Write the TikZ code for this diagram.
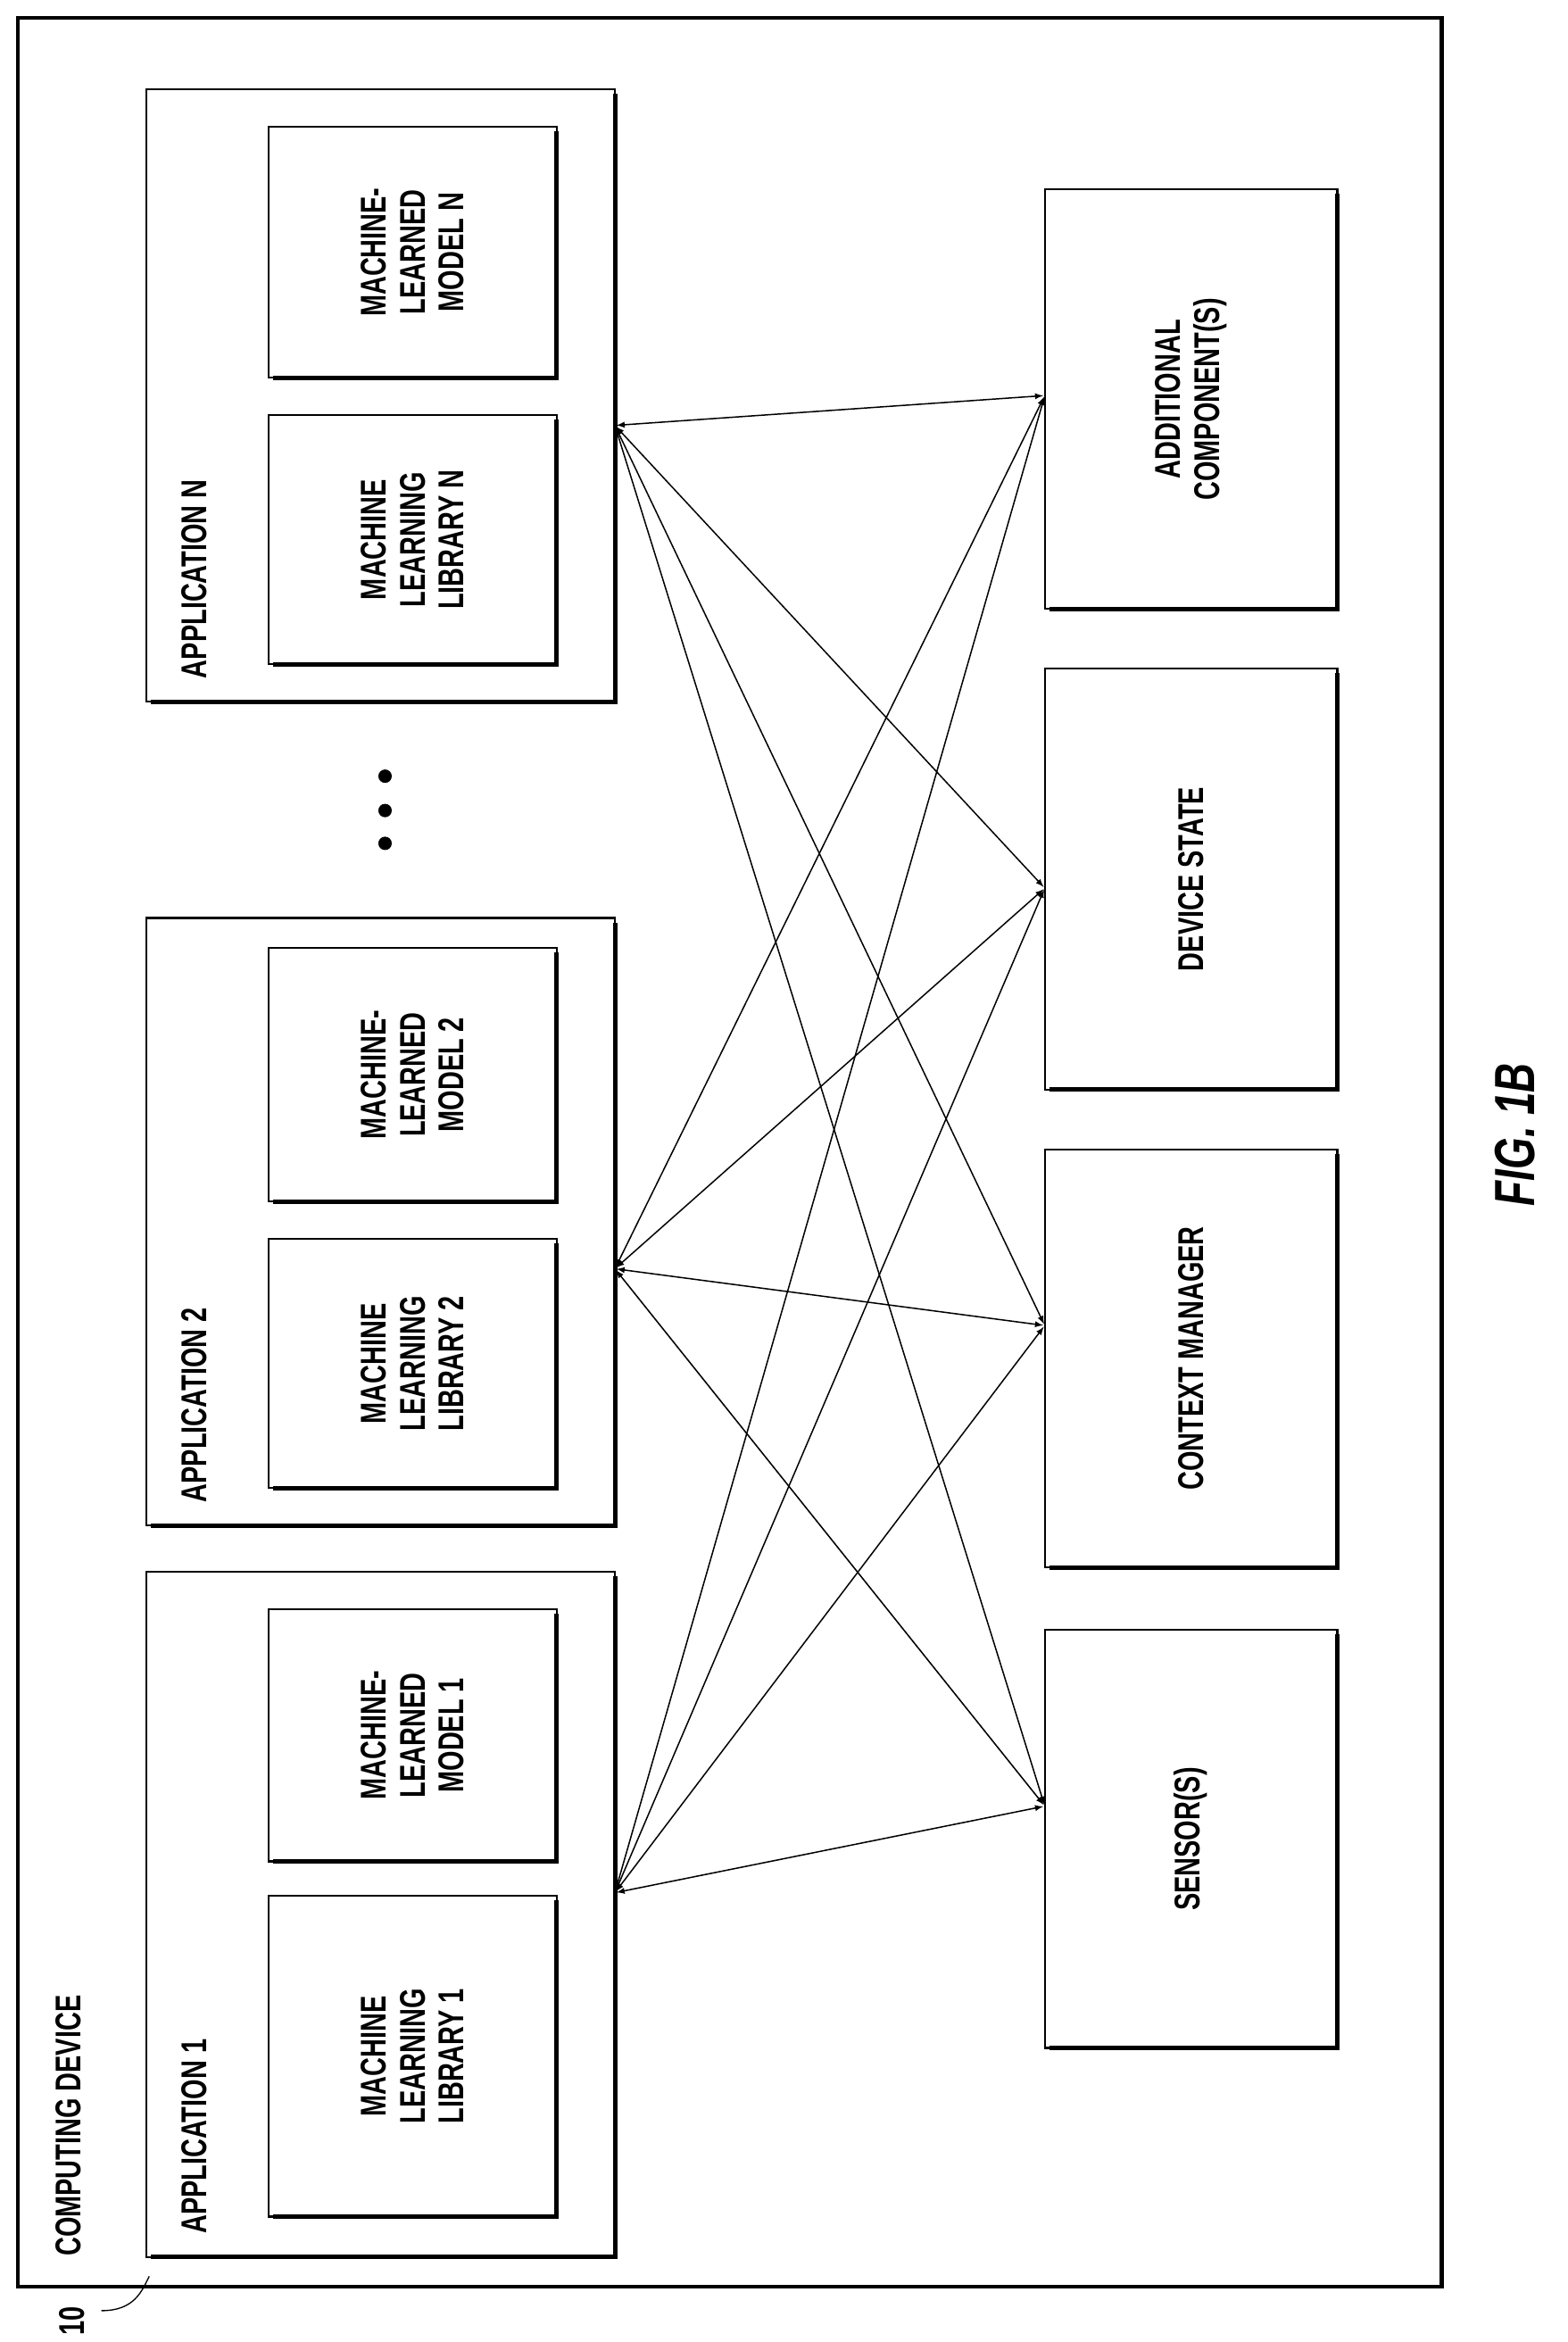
\documentclass[tikz,border=0pt]{standalone}
\usepackage{fontspec}
\setmainfont[FakeStretch=0.72]{Liberation Sans}
\begin{document}
\begin{tikzpicture}[x=1pt,y=-1pt,
 box/.style={draw,line width=1.3pt},
 sh/.style={line width=3pt},
 lbl/.style={rotate=90,font=\fontsize{24}{26}\selectfont\bfseries,align=center},
 arr/.style={<->,>=latex,line width=0.9pt,shorten <=1pt,shorten >=1pt}]
\useasboundingbox (0,0) rectangle (1050,1569);
\draw[line width=2.5pt] (12,12) rectangle (966,1532);
\node[lbl,anchor=south west] (cd) at (58,1515) {COMPUTING DEVICE};
\node[lbl] (ten) at (48,1555) {10};
\coordinate (tc) at (100,1525);
\draw[line width=0.8pt] (68,1548) .. controls (90,1548) and (95,1535) .. (tc);
\newcommand{\shbox}[5]{% name x1 y1 x2 y2
 \draw[box] (#2,#3) rectangle (#4,#5);
 \draw[sh] (#2+3,#5) -- (#4,#5) -- (#4,#3+3);
 \node (#1) at ({(#2+#4)/2},{(#3+#5)/2}) {};}
\shbox{a1}{98}{1053}{412}{1512}
\shbox{a2}{98}{615}{412}{1022}
\shbox{aN}{98}{60}{412}{470}
\node[lbl,anchor=south west] (t1) at (142,1500) {APPLICATION 1};
\node[lbl,anchor=south west] (t2) at (142,1010) {APPLICATION 2};
\node[lbl,anchor=south west] (tN) at (142,458) {APPLICATION N};
\shbox{l1}{180}{1270}{373}{1485}
\shbox{m1}{180}{1078}{373}{1247}
\shbox{l2}{180}{830}{373}{997}
\shbox{m2}{180}{635}{373}{805}
\shbox{lN}{180}{278}{373}{445}
\shbox{mN}{180}{85}{373}{253}
\node[lbl] at (l1) {MACHINE\\LEARNING\\LIBRARY 1};
\node[lbl] at (m1) {MACHINE-\\LEARNED\\MODEL 1};
\node[lbl] at (l2) {MACHINE\\LEARNING\\LIBRARY 2};
\node[lbl] at (m2) {MACHINE-\\LEARNED\\MODEL 2};
\node[lbl] at (lN) {MACHINE\\LEARNING\\LIBRARY N};
\node[lbl] at (mN) {MACHINE-\\LEARNED\\MODEL N};
\foreach \y in {520,543,565} \fill (258,\y) circle (4.5);
\shbox{ac}{700}{127}{896}{408}
\shbox{ds}{700}{448}{896}{730}
\shbox{cm}{700}{770}{896}{1050}
\shbox{se}{700}{1092}{896}{1372}
\node[lbl] at (ac) {ADDITIONAL\\COMPONENT(S)};
\node[lbl] at (ds) {DEVICE STATE};
\node[lbl] at (cm) {CONTEXT MANAGER};
\node[lbl] at (se) {SENSOR(S)};
\node[rotate=90,font=\fontsize{38}{40}\selectfont\bfseries\itshape] (fig) at (1015,760) {FIG. 1B};
\coordinate (pN) at (412,285); \coordinate (p2) at (412,850); \coordinate (p1) at (412,1268);
\coordinate (qA) at (700,265); \coordinate (qD) at (700,595); \coordinate (qC) at (700,888); \coordinate (qS) at (700,1210);
\foreach \p in {pN,p2,p1} \foreach \q in {qA,qD,qC,qS} \draw[arr] (\p) -- (\q);
\end{tikzpicture}
\end{document}
